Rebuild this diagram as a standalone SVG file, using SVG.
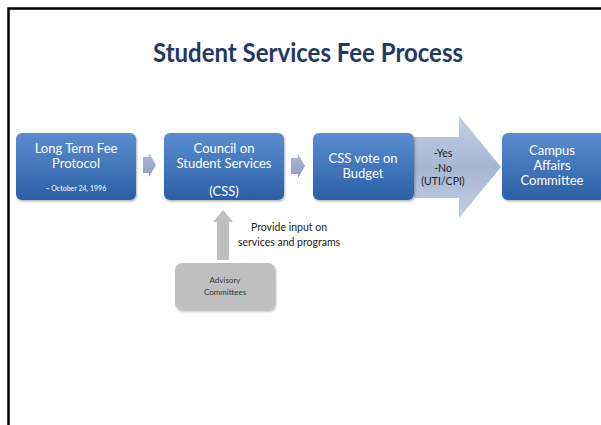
<svg xmlns="http://www.w3.org/2000/svg" width="601" height="425" viewBox="0 0 601 425">
<defs>
<linearGradient id="blue" x1="0" y1="0" x2="0" y2="1">
<stop offset="0" stop-color="#5A8DD0"/>
<stop offset="1" stop-color="#2B5FA5"/>
</linearGradient>
<linearGradient id="arr" x1="0" y1="0" x2="0" y2="1">
<stop offset="0" stop-color="#C3CEE2"/>
<stop offset="0.5" stop-color="#A6B7D3"/>
<stop offset="1" stop-color="#C3CEE2"/>
</linearGradient>
<linearGradient id="sarr" x1="0" y1="0" x2="0" y2="1">
<stop offset="0" stop-color="#A9B8D6"/>
<stop offset="1" stop-color="#8C9FC6"/>
</linearGradient>
<filter id="sh" x="-10%" y="-10%" width="130%" height="130%">
<feDropShadow dx="1" dy="1.5" stdDeviation="1.2" flood-color="#000" flood-opacity="0.3"/>
</filter>
</defs>
<style>
.box{fill:url(#blue);filter:url(#sh);}
.bt{font-family:Lato,"Open Sans",sans-serif;fill:#fff;font-size:13px;text-anchor:middle;}
.sm{font-size:7px;}
.at{font-family:Lato,"Open Sans",sans-serif;fill:#222;text-anchor:middle;font-size:10.5px;}
.ad{font-family:Lato,"Open Sans",sans-serif;fill:#333;text-anchor:middle;font-size:8px;}
.arrow{fill:url(#arr);}
.sarrow{fill:url(#sarr);}
</style>
<rect width="601" height="425" fill="#fff"/>
<path d="M8.5 425 V8.5 H601" fill="none" stroke="#000" stroke-width="2.5"/>
<text x="308" y="62" font-family="Lato, Open Sans, sans-serif" font-weight="bold" font-size="27" fill="#1F3864" text-anchor="middle" textLength="310" lengthAdjust="spacingAndGlyphs">Student Services Fee Process</text>
<g id="connectors">
<path class="sarrow" d="M143 157 H149 V153 L156 165 L149 177 V173 H143 Z"/>
<path class="sarrow" d="M291 158 H298 V154 L305 166 L298 178 V174 H291 Z"/>
<path class="arrow" d="M414 137 H459 V116 L501 167 L459 218 V198 H414 Z"/>
<path d="M217 260 V222 H213 L223 210 L233 222 H229 V260 Z" fill="#BFBFBF"/>
<text class="at" x="443" y="157">-Yes</text>
<text class="at" x="443" y="172">-No</text>
<text class="at" x="443" y="185">(UTI/CPI)</text>
<text class="at" x="289" y="231">Provide input on</text>
<text class="at" x="289" y="246">services and programs</text>
</g>
<g id="n1">
<rect class="box" x="16" y="133" width="120" height="67" rx="6"/>
<text class="bt" x="76" y="153">Long Term Fee</text>
<text class="bt" x="76" y="168">Protocol</text>
<text class="bt sm" x="76" y="191"><tspan font-size="10">-</tspan>  October 24, 1996</text>
</g>
<g id="n2">
<rect class="box" x="164" y="133" width="120" height="67" rx="6"/>
<text class="bt" x="224" y="153">Council on</text>
<text class="bt" x="224" y="168">Student Services</text>
<text class="bt" x="224" y="196">(CSS)</text>
</g>
<g id="n3">
<rect class="box" x="313" y="133" width="101" height="67" rx="6"/>
<text class="bt" x="363" y="163">CSS vote on</text>
<text class="bt" x="363" y="178">Budget</text>
</g>
<g id="n4">
<rect class="box" x="502" y="133" width="104" height="67" rx="6"/>
<text class="bt" x="552" y="155">Campus</text>
<text class="bt" x="552" y="170">Affairs</text>
<text class="bt" x="552" y="185">Committee</text>
</g>
<g id="n5">
<rect x="175" y="263" width="100" height="47" rx="7" fill="#BFBFBF" filter="url(#sh)"/>
<text class="ad" x="225" y="283">Advisory</text>
<text class="ad" x="225" y="295">Committees</text>
</g>
</svg>
